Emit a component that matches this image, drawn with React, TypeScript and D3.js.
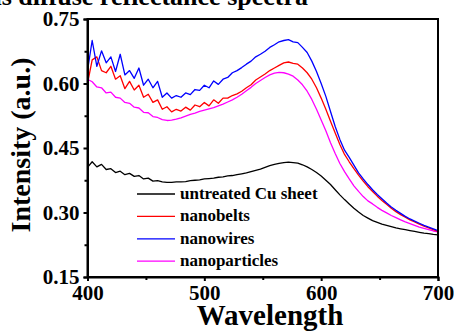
import { useEffect, useRef } from "react";
import * as d3 from "d3";

// wavelength grid (nm), 4 nm step
const wavelengths = d3.range(400, 701, 4);

const untreated = [
  0.405, 0.418, 0.406, 0.412, 0.400, 0.402, 0.393, 0.396, 0.388, 0.391,
  0.384, 0.386, 0.378, 0.380, 0.373, 0.374, 0.371, 0.370, 0.370, 0.371,
  0.371, 0.372, 0.374, 0.375, 0.376, 0.378, 0.379, 0.380, 0.382, 0.383,
  0.385, 0.386, 0.388, 0.390, 0.392, 0.395, 0.398, 0.401, 0.405, 0.409,
  0.412, 0.414, 0.416, 0.417, 0.416, 0.415, 0.411, 0.406, 0.400, 0.393,
  0.385, 0.375, 0.365, 0.353, 0.341, 0.330, 0.320, 0.310, 0.301, 0.293,
  0.287, 0.281, 0.277, 0.273, 0.270, 0.267, 0.264, 0.262, 0.260, 0.258,
  0.256, 0.254, 0.252, 0.251, 0.249, 0.248,
];

const nanobelts = [
  0.600, 0.655, 0.662, 0.630, 0.625, 0.640, 0.610, 0.618, 0.588, 0.605,
  0.585, 0.596, 0.568, 0.575, 0.556, 0.562, 0.540, 0.546, 0.534, 0.540,
  0.536, 0.545, 0.538, 0.550, 0.546, 0.556, 0.548, 0.562, 0.554, 0.566,
  0.566, 0.572, 0.576, 0.582, 0.590, 0.597, 0.608, 0.615, 0.622, 0.630,
  0.636, 0.642, 0.648, 0.650, 0.647, 0.645, 0.636, 0.625, 0.610, 0.590,
  0.566, 0.540, 0.512, 0.485, 0.458, 0.435, 0.418, 0.402, 0.387, 0.373,
  0.360, 0.349, 0.338, 0.328, 0.319, 0.310, 0.302, 0.295, 0.289, 0.283,
  0.278, 0.273, 0.268, 0.264, 0.260, 0.256,
];

const nanowires = [
  0.630, 0.700, 0.640, 0.676, 0.648, 0.662, 0.628, 0.668, 0.620, 0.630,
  0.612, 0.636, 0.596, 0.610, 0.590, 0.605, 0.568, 0.578, 0.566, 0.572,
  0.568, 0.578, 0.574, 0.586, 0.584, 0.596, 0.590, 0.606, 0.598, 0.610,
  0.614, 0.625, 0.630, 0.637, 0.645, 0.652, 0.662, 0.668, 0.675, 0.684,
  0.690, 0.697, 0.700, 0.702, 0.697, 0.695, 0.684, 0.672, 0.652, 0.628,
  0.600, 0.570, 0.535, 0.500, 0.470, 0.445, 0.428, 0.410, 0.392, 0.378,
  0.365, 0.353, 0.342, 0.332, 0.322, 0.313, 0.305, 0.298, 0.291, 0.285,
  0.280, 0.275, 0.270, 0.266, 0.262, 0.258,
];

const nanoparticles = [
  0.610, 0.604, 0.592, 0.590, 0.578, 0.580, 0.568, 0.566, 0.556, 0.554,
  0.545, 0.543, 0.533, 0.532, 0.523, 0.521, 0.516, 0.514, 0.515, 0.517,
  0.520, 0.524, 0.528, 0.531, 0.535, 0.538, 0.541, 0.544, 0.548, 0.552,
  0.557, 0.562, 0.568, 0.575, 0.583, 0.591, 0.600, 0.607, 0.614, 0.620,
  0.624, 0.626, 0.625, 0.622, 0.617, 0.608, 0.597, 0.582, 0.563, 0.540,
  0.515, 0.490, 0.462, 0.437, 0.414, 0.395, 0.378, 0.362, 0.349, 0.337,
  0.327, 0.320, 0.312, 0.305, 0.299, 0.293, 0.288, 0.283, 0.278, 0.274,
  0.270, 0.266, 0.263, 0.260, 0.257, 0.255,
];

const seriesNames = ["untreated Cu sheet", "nanobelts", "nanowires", "nanoparticles"];
const seriesColors = ["#000000", "#ff0000", "#0000ff", "#ff00ff"];
const seriesValues = [untreated, nanobelts, nanowires, nanoparticles];

const xTicks = [400, 500, 600, 700];
const xMinor = [450, 550, 650];
const yTicks = [0.15, 0.3, 0.45, 0.6, 0.75];
const yMinor = [0.225, 0.375, 0.525, 0.675];

const App = () => {
  const svgRef = useRef<SVGSVGElement>(null);

  useEffect(() => {
    const svg = d3.select(svgRef.current);
    svg.selectAll("*").remove();

    const left = 87.5, right = 438, top = 19, bottom = 277;
    const font = "'Liberation Serif', 'Times New Roman', serif";

    const x = d3.scaleLinear().domain([400, 700]).range([left, right]);
    const y = d3.scaleLinear().domain([0.15, 0.75]).range([bottom, top]);

    // title (cut off at the top of the picture)
    svg.append("text").attr("x", 308).attr("y", 5).attr("text-anchor", "end")
      .style("font-family", font).style("font-weight", "bold").style("font-size", "26px")
      .text("UV-vis diffuse reflectance spectra");

    // lines
    const line = d3.line<number>().x((d, i) => x(wavelengths[i])).y((d) => y(d));
    const order = [0, 3, 1, 2];
    order.forEach((k) => {
      svg.append("path").datum(seriesValues[k]).attr("d", line)
        .attr("fill", "none").attr("stroke", seriesColors[k]).attr("stroke-width", 1.3)
        .attr("stroke-linejoin", "round");
    });

    // frame
    svg.append("rect").attr("x", left).attr("y", top).attr("width", right - left).attr("height", bottom - top)
      .attr("fill", "none").attr("stroke", "#000").attr("stroke-width", 2);

    // axes
    const xAxis = svg.append("g").attr("transform", `translate(0, ${bottom})`)
      .call(d3.axisBottom(x).tickValues(xTicks).tickSize(4).tickFormat(d3.format("d")));
    svg.append("g").attr("transform", `translate(0, ${bottom})`)
      .call(d3.axisBottom(x).tickValues(xMinor).tickSize(3).tickFormat(() => ""))
      .call((g) => g.select(".domain").remove());
    const yAxis = svg.append("g").attr("transform", `translate(${left}, 0)`)
      .call(d3.axisLeft(y).tickValues(yTicks).tickSize(4).tickFormat(d3.format(".2f")));
    svg.append("g").attr("transform", `translate(${left}, 0)`)
      .call(d3.axisLeft(y).tickValues(yMinor).tickSize(3).tickFormat(() => ""))
      .call((g) => g.select(".domain").remove());

    svg.selectAll(".domain").attr("stroke-width", 2);
    svg.selectAll(".tick line").attr("stroke-width", 2);
    xAxis.selectAll("text").style("font-family", font).style("font-weight", "bold").style("font-size", "21px")
      .attr("y", 8).attr("fill", "#000");
    yAxis.selectAll("text").style("font-family", font).style("font-weight", "bold").style("font-size", "21px")
      .attr("x", -8).attr("fill", "#000");

    // axis titles
    svg.append("text").attr("x", 270).attr("y", 325).attr("text-anchor", "middle")
      .style("font-family", font).style("font-weight", "bold").style("font-size", "29px")
      .text("Wavelength");
    svg.append("text").attr("transform", "rotate(-90)").attr("x", -145).attr("y", 30).attr("text-anchor", "middle")
      .style("font-family", font).style("font-weight", "bold").style("font-size", "28px")
      .text("Intensity (a.u.)");

    // legend
    seriesNames.forEach((name, i) => {
      const ly = 199 + i * 22.4;
      svg.append("line").attr("x1", 137).attr("x2", 175).attr("y1", ly - 5).attr("y2", ly - 5)
        .attr("stroke", seriesColors[i]).attr("stroke-width", 1.3);
      svg.append("text").attr("x", 180).attr("y", ly)
        .style("font-family", font).style("font-weight", "bold").style("font-size", "17px")
        .text(name);
    });
  }, []);

  return (
    <svg ref={svgRef} width={454} height={331}
      style={{ position: "absolute", left: 0, top: 0, background: "#fff" }} />
  );
};

export default App;
